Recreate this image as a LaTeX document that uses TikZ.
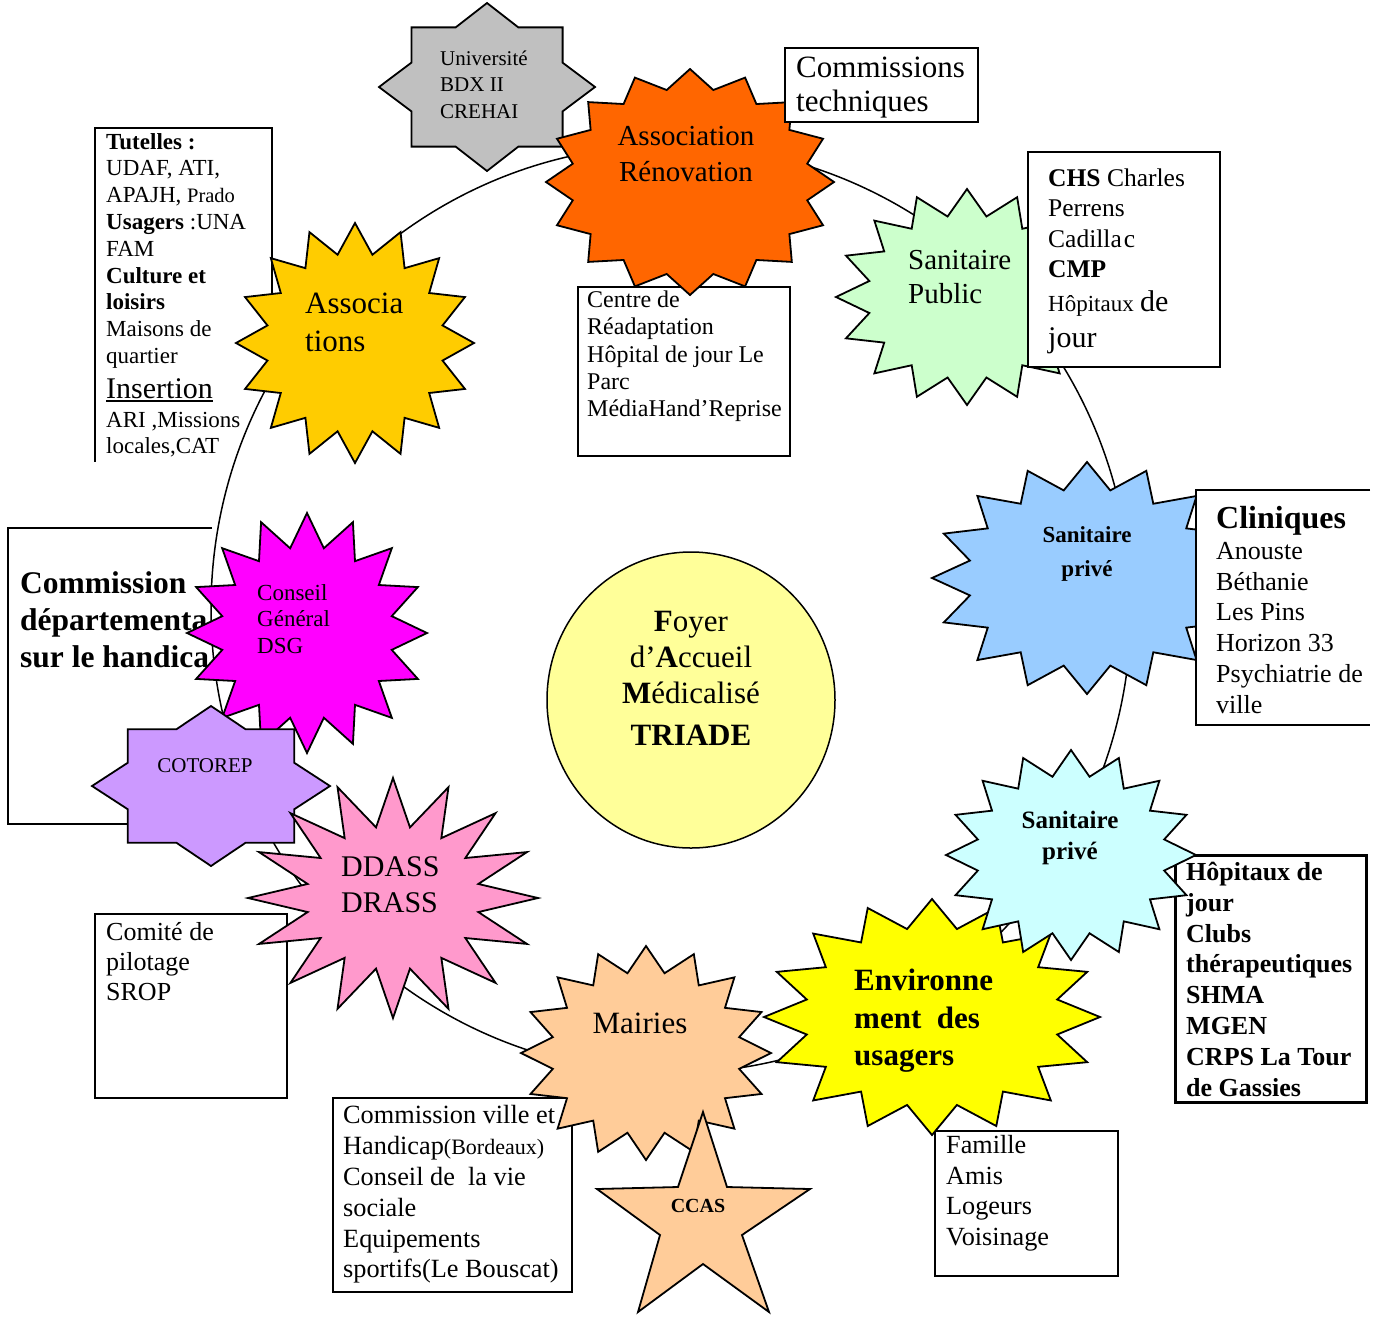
\documentclass[tikz,border=0pt]{standalone}
\usepackage{fontspec}
\setmainfont{Liberation Serif}
\newcommand\fsz[2]{\fontsize{#1}{#2}\selectfont}
\newcommand\ulin[1]{\setbox0\hbox{#1}\rlap{\rule[-4pt]{\wd0}{2pt}}\box0}
\definecolor{cgray}{HTML}{C0C0C0}
\definecolor{corange}{HTML}{FF6600}
\definecolor{cgreen}{HTML}{CCFFCC}
\definecolor{cgold}{HTML}{FFCC00}
\definecolor{cmag}{HTML}{FF00FF}
\definecolor{clav}{HTML}{CC99FF}
\definecolor{cpink}{HTML}{FF99CC}
\definecolor{cblue}{HTML}{99CCFF}
\definecolor{ccyan}{HTML}{CCFFFF}
\definecolor{cyell}{HTML}{FFFF00}
\definecolor{cpeach}{HTML}{FFCC99}
\definecolor{cpale}{HTML}{FFFF99}
\tikzset{
  boxline/.style={line width=2.6pt},
  starline/.style={line width=1.8pt, line join=miter},
  ringline/.style={line width=1.5pt},
  txt/.style={inner sep=0pt, anchor=north west, align=left},
  ctxt/.style={inner sep=0pt, anchor=north, align=center},
}
% 16-point burst: name, cx, cy, rx, ry, inner ratio, colour
\newcommand\sburst[7]{%
  \coordinate (#1) at (#2,#3);
  \begin{scope}[shift={(#1)}, xscale=#4, yscale=#5]
    \filldraw[fill=#7, starline] plot[samples=32, domain=0:31, variable=\k]
      ({(1-(1-#6)*mod(round(\k),2))*cos(90+\k*11.25)},
       {(1-(1-#6)*mod(round(\k),2))*sin(90+\k*11.25)}) -- cycle;
  \end{scope}}
% 8-point star: name, cx, cy, half width, half height, colour
\newcommand\ostar[6]{%
  \coordinate (#1) at (#2,#3);
  \begin{scope}[shift={(#1)}, xscale=#4, yscale=#5]
    \filldraw[fill=#6, starline] (0,-1) -- (0.29,-0.71) -- (0.7,-0.71) -- (0.7,-0.29)
      -- (1,0) -- (0.7,0.29) -- (0.7,0.71) -- (0.29,0.71) -- (0,1) -- (-0.29,0.71)
      -- (-0.7,0.71) -- (-0.7,0.29) -- (-1,0) -- (-0.7,-0.29) -- (-0.7,-0.71)
      -- (-0.29,-0.71) -- cycle;
  \end{scope}}
\begin{document}
\begin{tikzpicture}[x=1pt, y=-1pt]
\fill[white] (0,0) rectangle (1384,1318);
\useasboundingbox (0,0) rectangle (1384,1318);

% ring linking the partners
\coordinate (ringc) at (671,609);
\draw[ringline] (ringc) ellipse (460pt and 464pt);

% boxes behind the bursts
\draw[boxline] (272,310) -- (272,128) -- (95,128) -- (95,462);
\node[txt, font=\fsz{23}{26.8}] (tTut) at (106,133) {%
  \textbf{Tutelles :}\\
  UDAF, ATI,\\
  APAJH, {\fsz{20.5}{26.8}Prado}\\
  \textbf{Usagers} :UNA\\
  FAM\\
  \textbf{Culture et}\\
  \textbf{loisirs}\\
  Maisons de\\
  quartier\\[8pt]
  {\fsz{30}{26.8}\ulin{Insertion}}\\[2pt]
  ARI ,Missions\\
  locales,CAT};

\draw[boxline] (212,528) -- (8,528) -- (8,824) -- (212,824);
\begin{scope}
  \clip (8,528) rectangle (207,824);
  \node[txt, font=\fsz{31.5}{37}\bfseries] (tCdep) at (20,571.5) {Commission\\départementale\\sur le handicap};
\end{scope}

\draw[boxline] (578,287) rectangle (790,456);
\node[txt, font=\fsz{24}{27.4}] (tCentre) at (587,290.5) {Centre de\\Réadaptation\\Hôpital de jour Le\\Parc\\MédiaHand’Reprise};

\draw[boxline] (95,914) rectangle (287,1098);
\node[txt, font=\fsz{26}{30}] (tComite) at (106,922) {Comité de\\pilotage\\SROP};

\draw[boxline] (333,1098) rectangle (572,1292);
\node[txt, font=\fsz{26.3}{30.8}] (tVille) at (343,1105.5) {%
  Commission ville et\\
  Handicap{\fsz{22}{30.8}(Bordeaux)}\\
  Conseil de\ \ la vie\\
  sociale\\
  Equipements\\
  sportifs(Le Bouscat)};

\draw[boxline] (935,1131) rectangle (1118,1276);
\node[txt, font=\fsz{26.2}{30.5}] (tFam) at (946,1135.5) {Famille\\Amis\\Logeurs\\Voisinage};

\draw[line width=3pt, fill=white] (1175,855) rectangle (1366,1102);

% central home
\coordinate (foyer) at (691,700);
\filldraw[fill=cpale, line width=1.5pt] (foyer) ellipse (144pt and 148pt);
\node[ctxt, font=\fsz{31}{36}] (tFoyer) at (691,611) {%
  \textbf{F}oyer\\d’\textbf{A}ccueil\\\textbf{M}édicalisé\\[6pt]\textbf{TRIADE}};

% bursts
\ostar{univ}{487}{87}{108}{84}{cgray}
\sburst{assoc}{355}{343}{119}{120}{0.75}{cgold}
\sburst{renov}{690}{182}{144}{113}{0.83}{corange}
\sburst{sanpub}{967}{297}{131}{108}{0.76}{cgreen}
\sburst{sanpriv}{1087}{578}{155}{116}{0.77}{cblue}
\sburst{env}{932}{1017}{168}{118}{0.76}{cyell}
\sburst{sanpriv2}{1071}{855}{125}{105}{0.76}{ccyan}
\sburst{mairies}{646}{1053}{125}{107}{0.76}{cpeach}
\coordinate (ccas) at (703,1215);
\filldraw[fill=cpeach, starline] (703,1112) -- (727,1187) -- (810,1189) -- (742,1235)
  -- (769,1312) -- (703,1264) -- (638,1312) -- (660,1235) -- (597,1189) -- (678,1187) -- cycle;
\sburst{cg}{307}{633}{120}{120}{0.72}{cmag}
\ostar{coto}{211}{786}{119}{80}{clav}
\sburst{ddass}{393}{898}{145}{120}{0.6}{cpink}

% white boxes in front
\filldraw[boxline, fill=white] (1028,152) rectangle (1220,367);
\node[txt, font=\fsz{25.5}{30.5}] (tCHS) at (1048,168.5) {%
  \textbf{CHS} Charles\\
  Perrens\\
  Cadilla\kern2pt c\\
  \textbf{CMP}\\[3.5pt]
  {\fsz{23}{30.5}Hôpitaux} {\fsz{30}{30.5}de}\\[5pt]
  {\fsz{30}{30.5}jour}};

\fill[white] (1196,490) rectangle (1370,725);
\draw[boxline] (1370,490) -- (1196,490) -- (1196,725) -- (1370,725);
\node[txt, font=\fsz{26}{30.8}] (tClin) at (1216,506) {%
  {\fsz{32}{31}\textbf{Cliniques}}\\
  Anouste\\
  Béthanie\\
  Les Pins\\
  Horizon 33\\
  Psychiatrie de\\
  ville};

\filldraw[boxline, fill=white] (785,48) rectangle (978,122);
\node[txt, font=\fsz{31}{34}] (tComm) at (796,57) {Commissions\\techniques};

\node[txt, font=\fsz{26}{30.8}\bfseries] (tHop) at (1186,862) {%
  Hôpitaux de\\jour\\Clubs\\thérapeutiques\\SHMA\\MGEN\\CRPS La Tour\\de Gassies};

% burst labels
\node[txt, font=\fsz{21}{26.5}] (tUniv) at (440,50.5) {Université\\BDX II\\CREHAI};
\node[ctxt, font=\fsz{29}{36}] (tRenov) at (686,126) {Association\\Rénovation};
\node[txt, font=\fsz{29}{34}] (tSanPub) at (908,250) {Sanitaire\\Public};
\node[txt, font=\fsz{31}{38}] (tAssoc) at (305,293) {Associa\\tions};
\node[txt, font=\fsz{23}{26.5}] (tCG) at (257,584) {Conseil\\Général\\DSG};
\node[anchor=base, inner sep=0pt, font=\fsz{21}{25}] (tCoto) at (205,772) {COTOREP};
\node[txt, font=\fsz{30}{36}] (tDdass) at (341,856) {DDASS\\DRASS};
\node[anchor=base, inner sep=0pt, font=\fsz{31}{36}] (tMairies) at (640,1033) {Mairies};
\node[txt, font=\fsz{31}{37.5}\bfseries] (tEnv) at (854,969) {Environne\\ment\ \ des\\usagers};
\node[anchor=base, inner sep=0pt, font=\fsz{20}{24}\bfseries] (tCcas) at (698,1212) {CCAS};
\node[ctxt, font=\fsz{23}{34}\bfseries] (tSp1) at (1087,526) {Sanitaire\\privé};
\node[ctxt, font=\fsz{25}{31}\bfseries] (tSp2) at (1070,811) {Sanitaire\\privé};
\end{tikzpicture}
\end{document}
